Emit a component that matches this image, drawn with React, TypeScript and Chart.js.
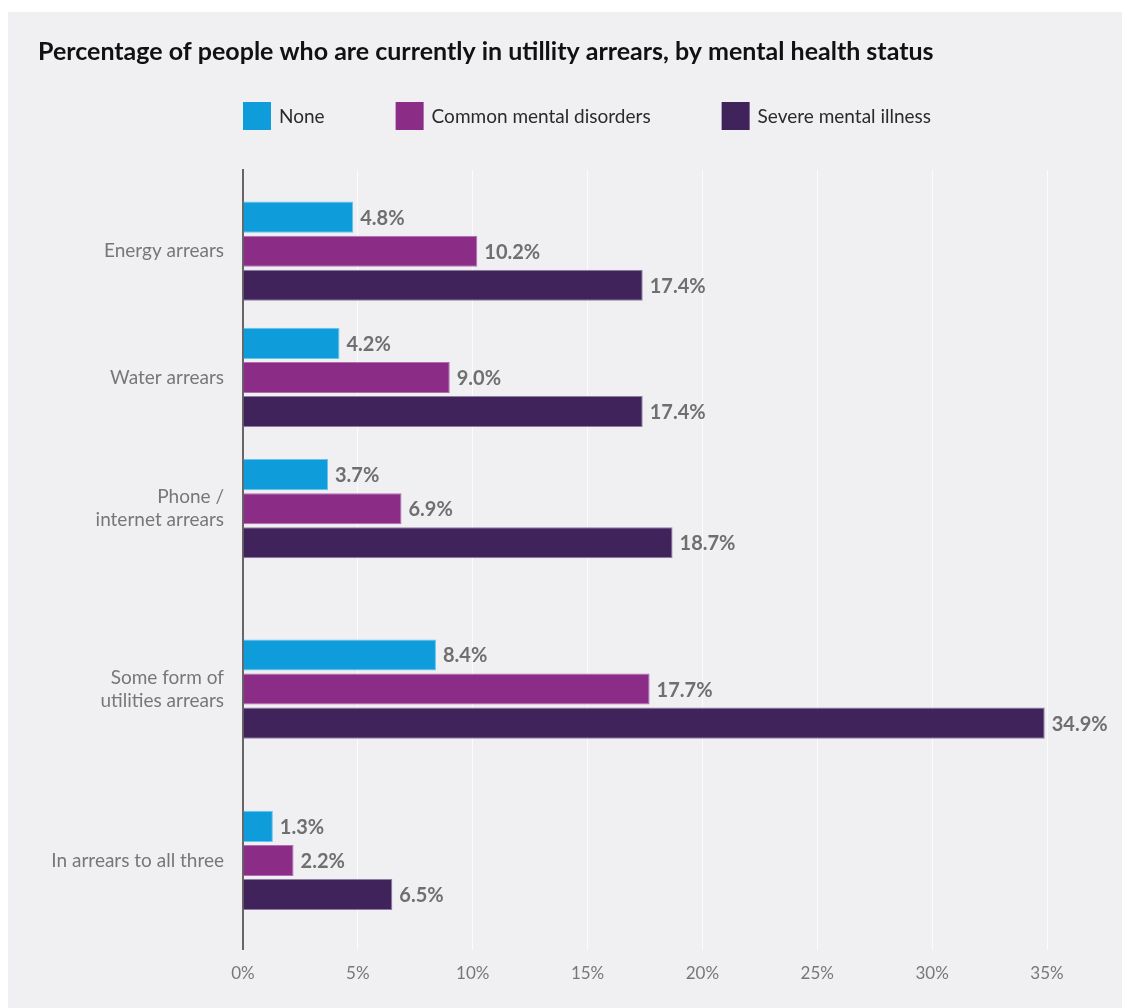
import React, { useEffect, useRef } from "react";
import { Chart, registerables } from "chart.js";

Chart.register(...registerables);

// ---------- data ----------
const chartTitle =
  "Percentage of people who are currently in utillity arrears, by mental health status";
const categories: (string | string[])[] = [
  "Energy arrears",
  "Water arrears",
  ["Phone /", "internet arrears"],
  ["Some form of", "utilities arrears"],
  "In arrears to all three",
];
const seriesNames = ["None", "Common mental disorders", "Severe mental illness"];
const noneValues = [4.8, 4.2, 3.7, 8.4, 1.3];
const commonValues = [10.2, 9.0, 6.9, 17.7, 2.2];
const severeValues = [17.4, 17.4, 18.7, 34.9, 6.5];
const xTickValues = [0, 5, 10, 15, 20, 25, 30, 35];

// ---------- layout / style ----------
const groupSlots = [81, 207, 338, 518, 689]; // category positions on the index axis
const slotRange = 778;
const fillColors = ["#0f9cda", "#8b2c87", "#40235b"];
const edgeColors = ["#66c4ee", "#b36cb0", "#8e7ca3"];
const FONT = "Lato";

const valueLabels = {
  id: "valueLabels",
  afterDatasetsDraw(chart: any) {
    const ctx = chart.ctx;
    ctx.save();
    ctx.font = `bold 20px ${FONT}`;
    ctx.fillStyle = "#6f6f6f";
    ctx.textAlign = "left";
    ctx.textBaseline = "middle";
    chart.data.datasets.forEach((ds: any, di: number) => {
      const meta = chart.getDatasetMeta(di);
      meta.data.forEach((el: any, i: number) => {
        const v = ds.data[i].x;
        ctx.fillText(v.toFixed(1) + "%", el.x + 7, el.y + 1);
      });
    });
    ctx.restore();
  },
};

const topLegend = {
  id: "topLegend",
  afterDraw(chart: any) {
    const ctx = chart.ctx;
    const box = 28;
    const cy = 104;
    let x = chart.chartArea.left;
    ctx.save();
    ctx.font = `19px ${FONT}`;
    ctx.textBaseline = "middle";
    ctx.textAlign = "left";
    chart.data.datasets.forEach((ds: any) => {
      ctx.fillStyle = ds.backgroundColor;
      ctx.fillRect(x, cy - box / 2, box, box);
      x += box + 8;
      ctx.fillStyle = "#2a2a2a";
      ctx.fillText(ds.label, x, cy + 1);
      x += ctx.measureText(ds.label).width + 71;
    });
    ctx.restore();
  },
};

export default function App() {
  const ref = useRef<HTMLCanvasElement | null>(null);

  useEffect(() => {
    if (!ref.current) return;
    const seriesValues = [noneValues, commonValues, severeValues];
    const chart = new Chart(ref.current, {
      type: "bar",
      data: {
        datasets: seriesValues.map((vals, si) => ({
          label: seriesNames[si],
          data: vals.map((v, i) => ({ x: v, y: groupSlots[i] })),
          backgroundColor: fillColors[si],
          borderColor: edgeColors[si],
          borderWidth: 1,
          categoryPercentage: 102 / 126,
          barPercentage: 31 / 34,
        })),
      },
      options: {
        indexAxis: "y",
        responsive: false,
        animation: false,
        layout: { padding: { left: 30, right: 83, top: 0, bottom: 10 } },
        plugins: {
          legend: { display: false },
          tooltip: { enabled: false },
          title: {
            display: true,
            text: chartTitle,
            align: "start",
            color: "#111111",
            font: { family: FONT, size: 25, weight: "bold", lineHeight: 1.2 },
            padding: { top: 25, bottom: 103 },
          },
        },
        scales: {
          x: {
            type: "linear",
            position: "bottom",
            min: 0,
            max: 35,
            afterBuildTicks: (s: any) => {
              s.ticks = xTickValues.map((v) => ({ value: v }));
            },
            ticks: {
              callback: (v: any) => v + "%",
              color: "#777777",
              font: { family: FONT, size: 17 },
              padding: 14,
            },
            grid: { color: "#fbfbfc", lineWidth: 1, drawTicks: false },
            border: { display: false },
          },
          y: {
            type: "linear",
            reverse: true,
            offset: false,
            min: 0,
            max: slotRange,
            afterBuildTicks: (s: any) => {
              s.ticks = groupSlots.map((v) => ({ value: v }));
            },
            afterFit: (s: any) => {
              s.width = 205;
            },
            ticks: {
              autoSkip: false,
              callback: (_v: any, i: number) => categories[i],
              color: "#777777",
              font: { family: FONT, size: 19, lineHeight: 1.22 },
              padding: 19,
            },
            grid: { display: false, drawTicks: false, offset: false },
            border: { display: true, color: "#666666", width: 2 },
          },
        },
      } as any,
      plugins: [valueLabels, topLegend],
    });
    return () => chart.destroy();
  }, []);

  return (
    <div
      style={{
        width: 1122,
        height: 996,
        marginTop: 4,
        background: "#f0f0f3",
      }}
    >
      <canvas ref={ref} width={1122} height={996} style={{ display: "block" }} />
    </div>
  );
}
